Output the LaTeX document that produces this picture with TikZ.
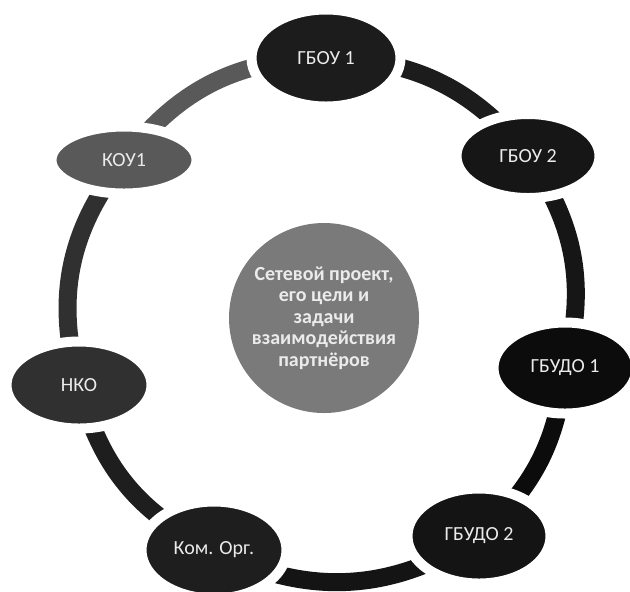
\documentclass[tikz,border=0pt]{standalone}
\usepackage{fontspec}
\setmainfont{Carlito}
\usetikzlibrary{shapes.geometric,backgrounds}
\definecolor{cGa}{HTML}{1C1C1C}
\definecolor{cGb}{HTML}{161616}
\definecolor{cDa}{HTML}{0C0C0C}
\definecolor{cDb}{HTML}{141414}
\definecolor{cKom}{HTML}{1E1E1E}
\definecolor{cNko}{HTML}{303030}
\definecolor{cKou}{HTML}{595959}
\definecolor{cCen}{HTML}{7A7A7A}
\definecolor{cTxt}{HTML}{EBEBEB}
\begin{document}
\begin{tikzpicture}[x=0.5pt,y=-0.5pt,
  org/.style={ellipse, draw=white, line width=5pt, inner sep=0pt, text=cTxt,
    font=\fontsize{10}{12}\selectfont},
  link/.style={line width=9pt}]
\useasboundingbox (0,0) rectangle (630,591);
\node[org, fill=cGa, minimum width=74.5pt, minimum height=48.5pt] (g1) at (326,58) {ГБОУ 1};
\node[org, fill=cGb, minimum width=71.5pt, minimum height=42pt] (g2) at (528,156) {ГБОУ 2};
\node[org, fill=cDa, minimum width=71.5pt, minimum height=45.5pt] (d1) at (565,368) {ГБУДО 1};
\node[org, fill=cDb, minimum width=71.5pt, minimum height=47.5pt] (d2) at (479,536) {ГБУДО 2};
\node[org, fill=cKom, minimum width=72.5pt, minimum height=48.5pt] (ko) at (214,550) {Ком. Орг.};
\node[org, fill=cNko, minimum width=72.5pt, minimum height=43.5pt] (nko) at (79,385) {НКО};
\node[org, fill=cKou, minimum width=72.5pt, minimum height=33.5pt] (kou) at (124,160) {КОУ1};
\node[circle, fill=cCen, minimum size=95pt, inner sep=0pt, text=cTxt, align=center,
  font=\bfseries\fontsize{10}{10.75}\selectfont] (cen) at (324,318)
  {Сетевой проект,\\его цели и\\задачи\\взаимодействия\\партнёров};
\begin{scope}[on background layer]
\fill[white] (0,0) rectangle (630,591);
\draw[link, cKou] (kou.center) to[bend left=26] (g1.center);
\draw[link, cGa] (g1.center) to[bend left=25] (g2.center);
\draw[link, cGb] (g2.center) to[bend left=25] (d1.center);
\draw[link, cDa] (d1.center) to[bend left=21] (d2.center);
\draw[link, cDb] (d2.center) to[bend left=30] (ko.center);
\draw[link, cKom] (ko.center) to[bend left=25] (nko.center);
\draw[link, cNko] (nko.center) to[bend left=27] (kou.center);
\end{scope}
\end{tikzpicture}
\end{document}
